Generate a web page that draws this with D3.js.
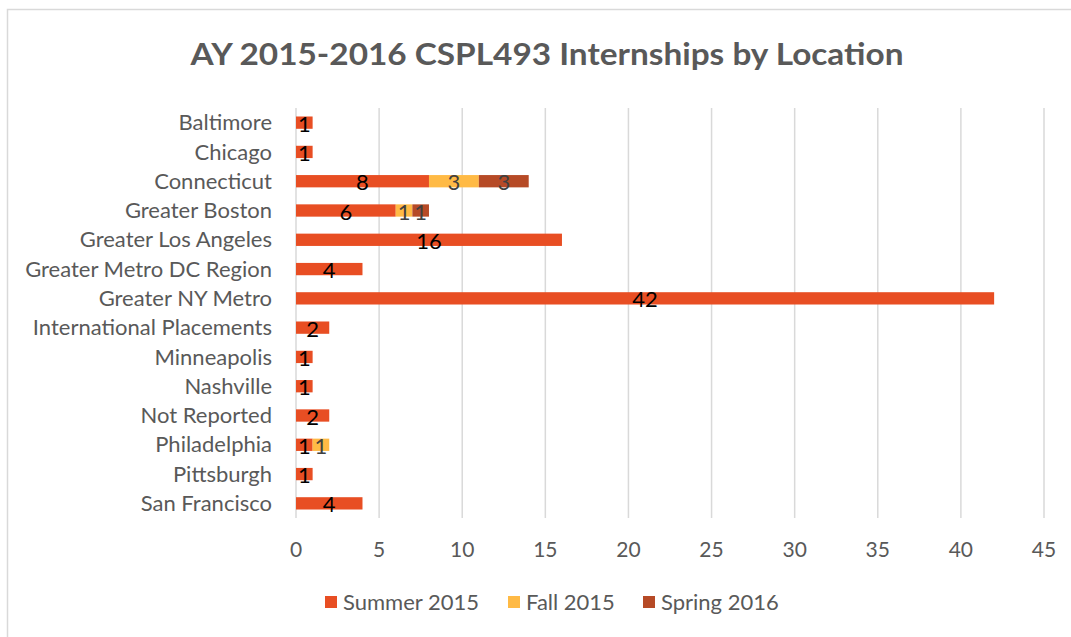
<!DOCTYPE html>
<html>
<head>
<meta charset="utf-8">
<script src="https://cdn.jsdelivr.net/npm/d3@7"></script>
<style>
  body { margin: 0; background: #fff; }
  svg text { font-family: Lato, "Open Sans", sans-serif; }
</style>
</head>
<body>
<div id="chart"></div>
<script>
// data
const locations = [
    "Baltimore", "Chicago", "Connecticut", "Greater Boston", "Greater Los Angeles",
    "Greater Metro DC Region", "Greater NY Metro", "International Placements",
    "Minneapolis", "Nashville", "Not Reported", "Philadelphia", "Pittsburgh", "San Francisco"
];
const summer2015 = [1, 1, 8, 6, 16, 4, 42, 2, 1, 1, 2, 1, 1, 4];
const fall2015   = [0, 0, 3, 1, 0, 0, 0, 0, 0, 0, 0, 1, 0, 0];
const spring2016 = [0, 0, 3, 1, 0, 0, 0, 0, 0, 0, 0, 0, 0, 0];
const seriesNames = ["Summer 2015", "Fall 2015", "Spring 2016"];
const xTicks = [0, 5, 10, 15, 20, 25, 30, 35, 40, 45];

const colors = ["#E84E23", "#FFBA45", "#B64A26"];
const labelColors = ["#000000", "#404040", "#404040"];

function buildChart() {
    const W = 1071, H = 637;
    const plot = { left: 296, right: 1044, top: 108, bottom: 518 };

    const svg = d3.select("#chart").append("svg")
        .attr("width", W)
        .attr("height", H);

    // chart area border
    svg.append("rect")
        .attr("x", 7.5).attr("y", 9.5)
        .attr("width", 1080).attr("height", 650)
        .attr("fill", "#fff")
        .attr("stroke", "#d9d9d9")
        .attr("stroke-width", 1.5);

    // title
    svg.append("text")
        .attr("x", 547).attr("y", 65)
        .attr("text-anchor", "middle")
        .attr("font-size", 31)
        .attr("font-weight", "bold")
        .attr("fill", "#595959")
        .attr("textLength", 713)
        .attr("lengthAdjust", "spacingAndGlyphs")
        .text("AY 2015-2016 CSPL493 Internships by Location");

    const x = d3.scaleLinear().domain([0, 45]).range([plot.left, plot.right]);
    const y = d3.scaleBand().domain(locations).range([plot.top, plot.bottom]).paddingInner(0.58).paddingOuter(0.29);

    // gridlines
    svg.append("g")
        .selectAll("line")
        .data(xTicks)
        .join("line")
        .attr("x1", d => x(d)).attr("x2", d => x(d))
        .attr("y1", plot.top).attr("y2", plot.bottom)
        .attr("stroke", "#d9d9d9")
        .attr("stroke-width", 1.5);

    // x tick labels
    svg.append("g")
        .selectAll("text")
        .data(xTicks)
        .join("text")
        .attr("x", d => x(d))
        .attr("y", 557)
        .attr("text-anchor", "middle")
        .attr("font-size", 21)
        .attr("fill", "#595959")
        .text(d => d);

    // category labels
    svg.append("g")
        .selectAll("text")
        .data(locations)
        .join("text")
        .attr("x", 272)
        .attr("y", d => y(d) + y.bandwidth() / 2)
        .attr("dy", "0.35em")
        .attr("text-anchor", "end")
        .attr("font-size", 22)
        .attr("fill", "#595959")
        .text(d => d);

    // stacked series
    const rows = locations.map((loc, i) => ({
        loc: loc,
        "Summer 2015": summer2015[i],
        "Fall 2015": fall2015[i],
        "Spring 2016": spring2016[i]
    }));
    const stacked = d3.stack().keys(seriesNames)(rows);

    const layers = svg.append("g")
        .selectAll("g")
        .data(stacked)
        .join("g")
        .attr("fill", (d, i) => colors[i]);

    layers.selectAll("rect")
        .data(d => d.filter(s => s[1] > s[0]))
        .join("rect")
        .attr("x", d => x(d[0]))
        .attr("y", d => y(d.data.loc))
        .attr("width", d => x(d[1]) - x(d[0]))
        .attr("height", y.bandwidth());

    // data labels
    stacked.forEach((layer, i) => {
        svg.append("g")
            .selectAll("text")
            .data(layer.filter(s => s[1] > s[0]))
            .join("text")
            .attr("x", d => x((d[0] + d[1]) / 2))
            .attr("y", d => y(d.data.loc) + y.bandwidth() / 2 + 9)
            .attr("text-anchor", "middle")
            .attr("font-size", 22)
            .attr("fill", labelColors[i])
            .text(d => d[1] - d[0]);
    });

    // legend
    const legendX = [325, 508, 643];
    const legend = svg.append("g")
        .selectAll("g")
        .data(seriesNames)
        .join("g")
        .attr("transform", (d, i) => `translate(${legendX[i]},596)`);
    legend.append("rect")
        .attr("width", 12).attr("height", 12)
        .attr("fill", (d, i) => colors[i]);
    legend.append("text")
        .attr("x", 18).attr("y", 6)
        .attr("dy", "0.35em")
        .attr("font-size", 22)
        .attr("fill", "#595959")
        .text(d => d);
}

buildChart();
</script>
</body>
</html>
